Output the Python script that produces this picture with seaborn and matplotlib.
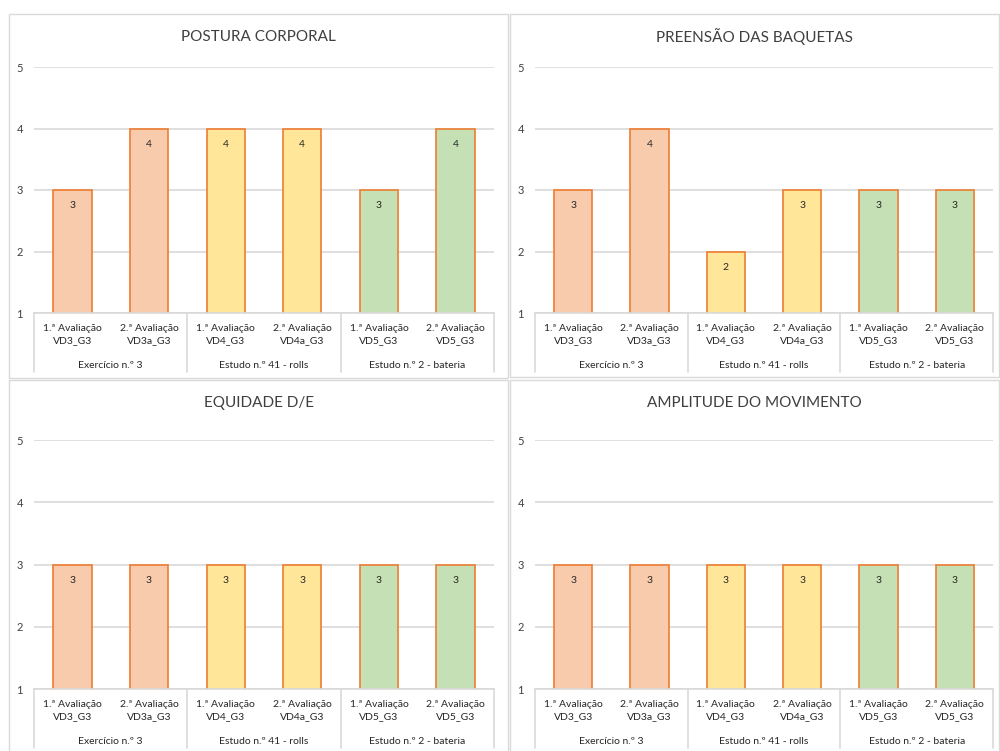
import matplotlib
matplotlib.use("Agg")
import matplotlib.pyplot as plt
import matplotlib.transforms as mtransforms
from matplotlib.patches import Rectangle
import seaborn as sns
import pandas as pd

sns.set_theme(style="white")
plt.rcParams["font.family"] = ["Lato", "DejaVu Sans"]

# Data
evaluations = ["1.ª Avaliação\nVD3_G3", "2.ª Avaliação\nVD3a_G3",
               "1.ª Avaliação\nVD4_G3", "2.ª Avaliação\nVD4a_G3",
               "1.ª Avaliação\nVD5_G3", "2.ª Avaliação\nVD5_G3"]
pieces = ["Exercício n.º 3", "Exercício n.º 3",
          "Estudo n.º 41 - rolls", "Estudo n.º 41 - rolls",
          "Estudo n.º 2 - bateria", "Estudo n.º 2 - bateria"]
piece_names = ["Exercício n.º 3", "Estudo n.º 41 - rolls", "Estudo n.º 2 - bateria"]

titles = ["POSTURA CORPORAL", "PREENSÃO DAS BAQUETAS",
          "EQUIDADE D/E", "AMPLITUDE DO MOVIMENTO"]
postura = [3, 4, 4, 4, 3, 4]
preensao = [3, 4, 2, 3, 3, 3]
equidade = [3, 3, 3, 3, 3, 3]
amplitude = [3, 3, 3, 3, 3, 3]
y_ticks = [1, 2, 3, 4, 5]

palette = {"Exercício n.º 3": "#F8CBAD",
           "Estudo n.º 41 - rolls": "#FFE699",
           "Estudo n.º 2 - bateria": "#C5E0B4"}
EDGE = "#ED7D31"
GRID = "#D9D9D9"
TEXT = "#404040"

W, H = 1000, 751
fig = plt.figure(figsize=(W / 100, H / 100), dpi=100)
fig.patch.set_facecolor("white")


def px_axes(left, top, right, bottom):
    return fig.add_axes([left / W, 1 - bottom / H, (right - left) / W, (bottom - top) / H])


def panel_border(left, top, right, bottom):
    fig.add_artist(Rectangle((left / W, 1 - bottom / H), (right - left) / W, (bottom - top) / H,
                             transform=fig.transFigure, fill=False, edgecolor=GRID, lw=1.0))


# panel frames (left, top, right, bottom) and plot areas
panels = [
    dict(frame=(9, 14, 508, 378), plot=(34, 67, 494, 313), values=postura),
    dict(frame=(510, 14, 999, 377), plot=(535, 67, 993, 313), values=preensao),
    dict(frame=(9, 380, 508, 760), plot=(34, 440, 494, 689), values=equidade),
    dict(frame=(510, 380, 999, 760), plot=(535, 440, 993, 689), values=amplitude),
]

for title, p in zip(titles, panels):
    fl, ft, fr, fb = p["frame"]
    panel_border(fl, ft, fr, fb)
    ax = px_axes(*p["plot"])
    df = pd.DataFrame({"avaliacao": evaluations, "nivel": p["values"], "peca": pieces})
    sns.barplot(data=df, x="avaliacao", y="nivel", hue="peca", palette=palette,
                dodge=False, width=0.5, saturation=1, edgecolor=EDGE, linewidth=1.2,
                legend=False, ax=ax, zorder=3)
    ax.set_ylim(1, 5)
    ax.set_xlim(-0.5, 5.5)
    ax.set_yticks(y_ticks)
    ax.set_yticklabels([str(t) for t in y_ticks], fontsize=8, color=TEXT)
    ax.tick_params(axis="y", length=0, pad=8)
    ax.tick_params(axis="x", length=0, pad=8, labelsize=7.5, labelcolor="#262626")
    for lbl in ax.get_xticklabels():
        lbl.set_linespacing(1.45)
    ax.set_xlabel("")
    ax.set_ylabel("")
    ax.grid(axis="y", color=GRID, lw=1.2, zorder=0)
    ax.set_axisbelow(True)
    for side in ["top", "left", "right"]:
        ax.spines[side].set_visible(False)
    ax.spines["bottom"].set_color(GRID)
    ax.spines["bottom"].set_linewidth(1.2)
    ax.spines["bottom"].set_zorder(4)

    # value labels inside the bars
    for i, v in enumerate(p["values"]):
        ax.annotate(str(v), xy=(i, v), xytext=(0, -11.5), textcoords="offset points",
                    ha="center", va="center", fontsize=7.5, color="#262626")

    # grouped category axis: separators and piece names
    trans = mtransforms.blended_transform_factory(ax.transData, ax.transAxes)
    ax_h = p["plot"][3] - p["plot"][1]
    sep_bottom = -59 / ax_h
    for xs in [-0.5, 1.5, 3.5, 5.5]:
        ax.plot([xs, xs], [0, sep_bottom], transform=trans, color=GRID, lw=1.2, clip_on=False)
    for k, name in enumerate(piece_names):
        ax.text(2 * k + 0.5, -53 / ax_h, name, transform=trans, ha="center", va="center",
                fontsize=7.5, color="#262626")

    # chart title
    title_y = ft + 23
    fig.text((fl + fr) / 2 / W, 1 - title_y / H, title, ha="center", va="center",
             fontsize=11, color=TEXT)

fig.savefig("out.png", dpi=100, facecolor="white")
